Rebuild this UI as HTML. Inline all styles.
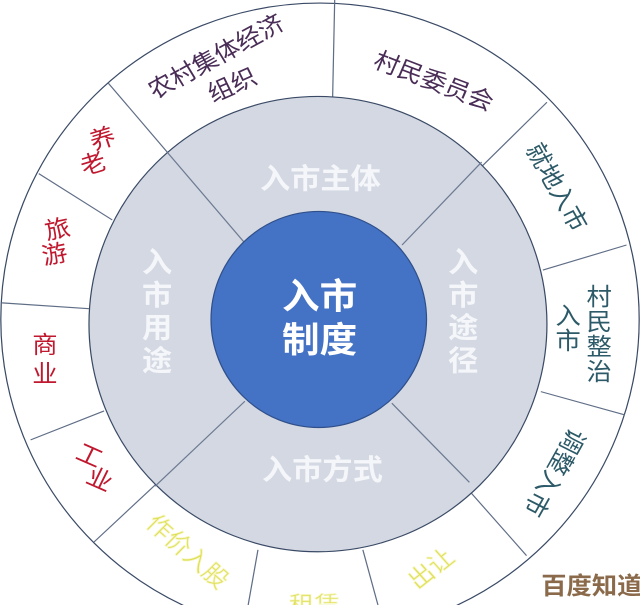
<!DOCTYPE html>
<html><head><meta charset="utf-8"><style>
html,body{margin:0;padding:0;background:#fff;width:640px;height:605px;overflow:hidden}
svg{display:block}
text{font-family:"Liberation Sans","Noto Sans CJK SC",sans-serif}
</style></head><body>
<svg width="640" height="605" viewBox="0 0 1568 1568" preserveAspectRatio="none" xmlns="http://www.w3.org/2000/svg">
<rect width="1568" height="1568" fill="#fff"/>
<ellipse cx="784" cy="828" rx="782" ry="820" fill="#fff" stroke="#3a4a66" stroke-width="3"/>
<g stroke="#5f6d86" stroke-width="3">
<line x1="820" y1="0" x2="815" y2="250"/>
<line x1="265" y1="215" x2="600" y2="630"/>
<line x1="95" y1="450" x2="275" y2="570"/>
<line x1="5" y1="785" x2="218" y2="800"/>
<line x1="75" y1="1140" x2="255" y2="1065"/>
<line x1="230" y1="1405" x2="600" y2="1040"/>
<line x1="1340" y1="265" x2="985" y2="635"/>
<line x1="1535" y1="635" x2="1330" y2="700"/>
<line x1="1325" y1="1015" x2="1530" y2="1075"/>
<line x1="960" y1="1045" x2="1290" y2="1440"/>
<line x1="632" y1="1425" x2="608" y2="1568"/>
<line x1="889" y1="1425" x2="926" y2="1568"/>
</g>
<ellipse cx="779" cy="840" rx="561" ry="590" fill="#d3d8e2" stroke="#3a4a66" stroke-width="3"/>
<g stroke="#6c7a92" stroke-width="3">
<line x1="410" y1="395" x2="600" y2="630"/>
<line x1="1180" y1="420" x2="985" y2="635"/>
<line x1="380" y1="1260" x2="600" y2="1040"/>
<line x1="960" y1="1045" x2="1150" y2="1250"/>
</g>
<ellipse cx="781" cy="828" rx="264" ry="280" fill="#4472c4" stroke="#2f4f8a" stroke-width="3"/>
<g fill="#fff" font-weight="bold" text-anchor="middle">
<text x="783" y="800" font-size="92">入市</text>
<text x="783" y="912" font-size="92">制度</text>
</g>
<g fill="#f4f6fa" font-weight="bold" font-size="74" text-anchor="middle">
<text x="785" y="488">入市主体</text>
<text x="790" y="1243">入市方式</text>
<text x="385" y="705">入</text><text x="385" y="790">市</text><text x="385" y="875">用</text><text x="385" y="960">途</text>
<text x="1135" y="705">入</text><text x="1135" y="790">市</text><text x="1135" y="875">途</text><text x="1135" y="960">径</text>
</g>
<g font-size="62" text-anchor="middle">
<text transform="translate(540,165) rotate(-30)" fill="#4a2d57">农村集体经济</text>
<text transform="translate(578,240) rotate(-25)" fill="#4a2d57">组织</text>
<text transform="translate(1055,230) rotate(22)" fill="#4a2d57">村民委员会</text>
<text transform="translate(1345,495) rotate(62)" fill="#2d5a68">就地入市</text>
<g fill="#2d5a68">
<text x="1468" y="790">村</text><text x="1468" y="855">民</text><text x="1468" y="920">整</text><text x="1468" y="985">治</text>
<text x="1392" y="840">入</text><text x="1392" y="905">市</text>
</g>
<text transform="translate(1340,1215) rotate(118)" fill="#2d5a68">调整入市</text>
<g fill="#c0182f">
<text transform="translate(258,380) rotate(-18)">养</text>
<text transform="translate(235,445) rotate(-18)">老</text>
<text transform="translate(145,615) rotate(-12)">旅</text>
<text transform="translate(138,680) rotate(-12)">游</text>
<text x="110" y="915">商</text><text x="110" y="990">业</text>
<text transform="translate(210,1200) rotate(25)">工</text>
<text transform="translate(235,1262) rotate(25)">业</text>
</g>
<g fill="#dede55" stroke="#f6f6c0" stroke-width="2">
<text transform="translate(445,1445) rotate(43)">作价入股</text>
<text x="770" y="1590">租赁</text>
<text transform="translate(1070,1490) rotate(-40)">出让</text>
</g>
</g>
<text x="1450" y="1540" font-size="62" font-weight="bold" fill="#8a6a4a" text-anchor="middle">百度知道</text>
</svg>
</body></html>
